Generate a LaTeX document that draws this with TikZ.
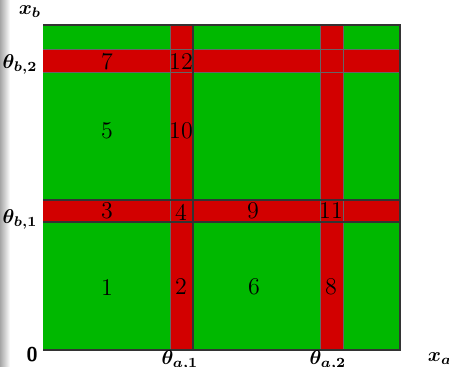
\documentclass[tikz,border=0pt]{standalone}
\usepackage{amsmath}
\usepackage{bm}
\usepackage{tikz}
\usetikzlibrary{positioning}

\definecolor{cellgreen}{RGB}{0,184,0}
\definecolor{bandred}{RGB}{210,0,0}

\begin{document}
\begin{tikzpicture}[
    x=0.5pt, y=-0.5pt,
    band/.style={fill=bandred},
    edge/.style={draw=gray!80!black, line width=0.4pt},
    heavy/.style={draw=black!80, line width=0.9pt},
    num/.style={font=\large, inner sep=0pt},
    axis/.style={font=\boldmath, inner sep=0pt},
]
\useasboundingbox (0,0) rectangle (449,366);

% Shadow on the left
\shade[left color=gray!70, right color=white] (0,0) rectangle (10,366);

% Region
\fill[cellgreen] (43,25) rectangle (400,350);

% Bands
\fill[band] (170,25) rectangle (193,350);
\fill[band] (320,25) rectangle (343,350);
\fill[band] (43,49) rectangle (400,72);
\fill[band] (43,200) rectangle (400,222);

% Thin cell edges
\draw[edge] (170,25) -- (170,350);
\draw[edge] (320,25) -- (320,350);
\draw[edge] (343,25) -- (343,350);
\draw[edge] (43,49) -- (400,49);
\draw[edge] (43,72) -- (400,72);

% Heavy lines
\draw[heavy] (193,25) -- (193,350);
\draw[heavy] (43,200) -- (400,200);
\draw[heavy] (43,222) -- (400,222);
\draw[heavy] (43,25) -- (400,25) -- (400,350) -- (43,350);

% Cell numbers
\node[num] (c7) at (107,62) {7};
\node[num] (c12) at (181,62) {12};
\node[num] (c5) at (107,131) {5};
\node[num] (c10) at (181,131) {10};
\node[num] (c3) at (107,211) {3};
\node[num] (c4) at (181,212) {4};
\node[num] (c9) at (253,211) {9};
\node[num] (c11) at (331,211) {11};
\node[num] (c1) at (107,288) {1};
\node[num] (c2) at (181,287) {2};
\node[num] (c6) at (254,287) {6};
\node[num] (c8) at (331,287) {8};

% Axis labels
\node[axis] (xb) at (30,12) {$\bm{x_b}$};
\node[axis] (tb2) at (20,64) {$\bm{\theta_{b,2}}$};
\node[axis] (tb1) at (20,219) {$\bm{\theta_{b,1}}$};
\node[font=\sffamily\bfseries, inner sep=0pt] (zero) at (32,355) {0};
\node[axis] (ta1) at (180,360) {$\bm{\theta_{a,1}}$};
\node[axis] (ta2) at (328,360) {$\bm{\theta_{a,2}}$};
\node[axis] (xa) at (440,359) {$\bm{x_a}$};
\end{tikzpicture}
\end{document}
